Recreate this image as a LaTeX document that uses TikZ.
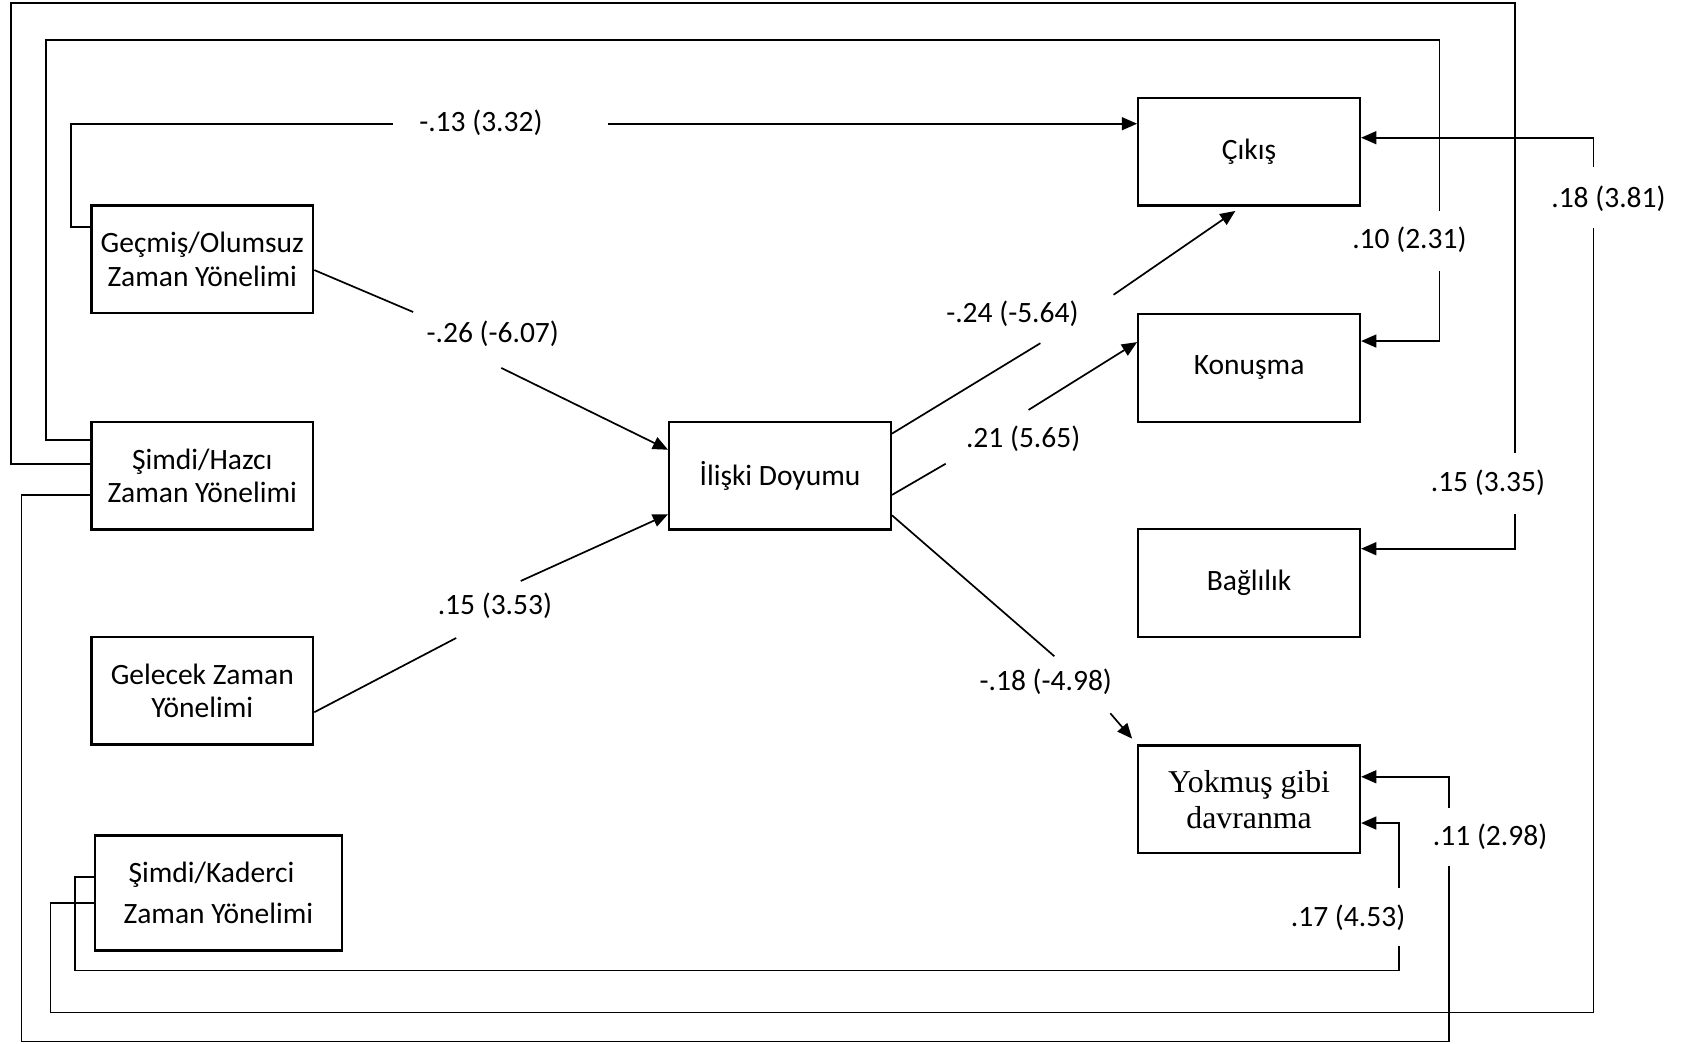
\documentclass[tikz,border=0pt]{standalone}
\usepackage{fontspec}
\setmainfont{Carlito}
\newfontfamily\yokfont{Liberation Serif}
\usepackage{tikz}
\usetikzlibrary{positioning, arrows.meta}

\begin{document}
\begin{tikzpicture}[x=0.01cm, y=-0.01cm, line width=0.45pt, font=\fontsize{7.8}{8.8}\selectfont,
	box/.style={rectangle, draw, line width=0.6pt, minimum width=2.06cm, minimum height=1cm, inner sep=0, align=center},
	arr/.style={-{Triangle[length=4pt, width=3.4pt]}}]
	\useasboundingbox (0,0) rectangle (1568,970);
	\node[box] (geo) at (188,241) {Geçmiş/Olumsuz\\Zaman Yönelimi};
	\node[box] (sha) at (188,442) {Şimdi/Hazcı\\Zaman Yönelimi};
	\node[box] (gel) at (188,642) {Gelecek Zaman\\Yönelimi};
	\node[box, minimum width=2.29cm, minimum height=1.07cm, align=left, font=\fontsize{7.8}{10.8}\selectfont] (kad) at (203,830) {\,Şimdi/Kaderci\\Zaman Yönelimi};
	\node[box] (ili) at (725,442) {İlişki Doyumu};
	\foreach \y/\n/\t in {141/cik/Çıkış, 342/kon/Konuşma, 542/bag/Bağlılık} {
		\node[box] (\n) at (1161,\y) {\t};
	};
	\node[box, font=\yokfont\fontsize{8.4}{9.4}\selectfont] (yok) at (1161,743) {Yokmuş gibi\\davranma};
	\foreach \x/\y/\n in {365/115/a1, 565/115/a2, 1338/196/b1, 1338/252/b2, 1408/421/c1, 1408/478/c2,
		1347/805/d1, 1347/751/d2, 1481/212/e1, 1481/155/e2, 1300/879/f1, 1300/825/f2,
		384/290/g1, 466/342/g2, 424/593/h1, 484/540/h2, 967/319/i1, 1035/274/i2,
		879/431/j1, 956/381/j2, 980/610/k1, 1032/663/k2} {
		\coordinate (\n) at (\x,\y);
	};
	\foreach \x/\y/\n/\t in {447/114/w1/{-.13 (3.32)}, 458/310/w2/{-.26 (-6.07)}, 460/563/w3/{.15 (3.53)},
		941/292/w4/{-.24 (-5.64)}, 951/408/w5/{.21 (5.65)}, 972/634/w6/{-.18 (-4.98)},
		1310/223/w7/{.10 (2.31)}, 1495/185/w8/{.18 (3.81)}, 1383/449/w9/{.15 (3.35)},
		1385/778/w10/{.11 (2.98)}, 1253/853/w11/{.17 (4.53)}} {
		\node (\n) at (\x,\y) {\t};
	};
	\draw (geo.west |- 0,211) -| (66,115) -- (a1);
	\draw[arr] (a2) -- (cik.west |- a2);
	\draw (sha.west |- 0,409) -| (43,37) -| (b1);
	\draw[arr] (b2) |- (kon.east |- 0,317);
	\draw (sha.west |- 0,431) -| (10,3) -| (c1);
	\draw[arr] (c2) |- (bag.east |- 0,510);
	\draw (sha.west |- 0,460) -| (20,968) -| (d1);
	\draw[arr] (d2) |- (yok.east |- 0,722);
	\draw (kad.west |- 0,839) -| (47,941) -| (e1);
	\draw[arr] (e2) |- (cik.east |- 0,128);
	\draw (kad.west |- 0,815) -| (70,902) -| (f1);
	\draw[arr] (f2) |- (yok.east |- 0,765);
	\draw (geo.east |- 0,251) -- (g1);
	\draw[arr] (g2) -- (ili.west |- 0,418);
	\draw (gel.east |- 0,662) -- (h1);
	\draw[arr] (h2) -- (ili.west |- 0,478);
	\draw (ili.east |- 0,403) -- (i1);
	\draw[arr, shorten >=2pt] (i2) -- (cik.south -| 1154,0);
	\draw (ili.east |- 0,460) -- (j1);
	\draw[arr] (j2) -- (kon.west |- 0,318);
	\draw (ili.east |- 0,479) -- (k1);
	\draw[arr, shorten >=2pt] (k2) -- (yok.north west);
\end{tikzpicture}
\end{document}
